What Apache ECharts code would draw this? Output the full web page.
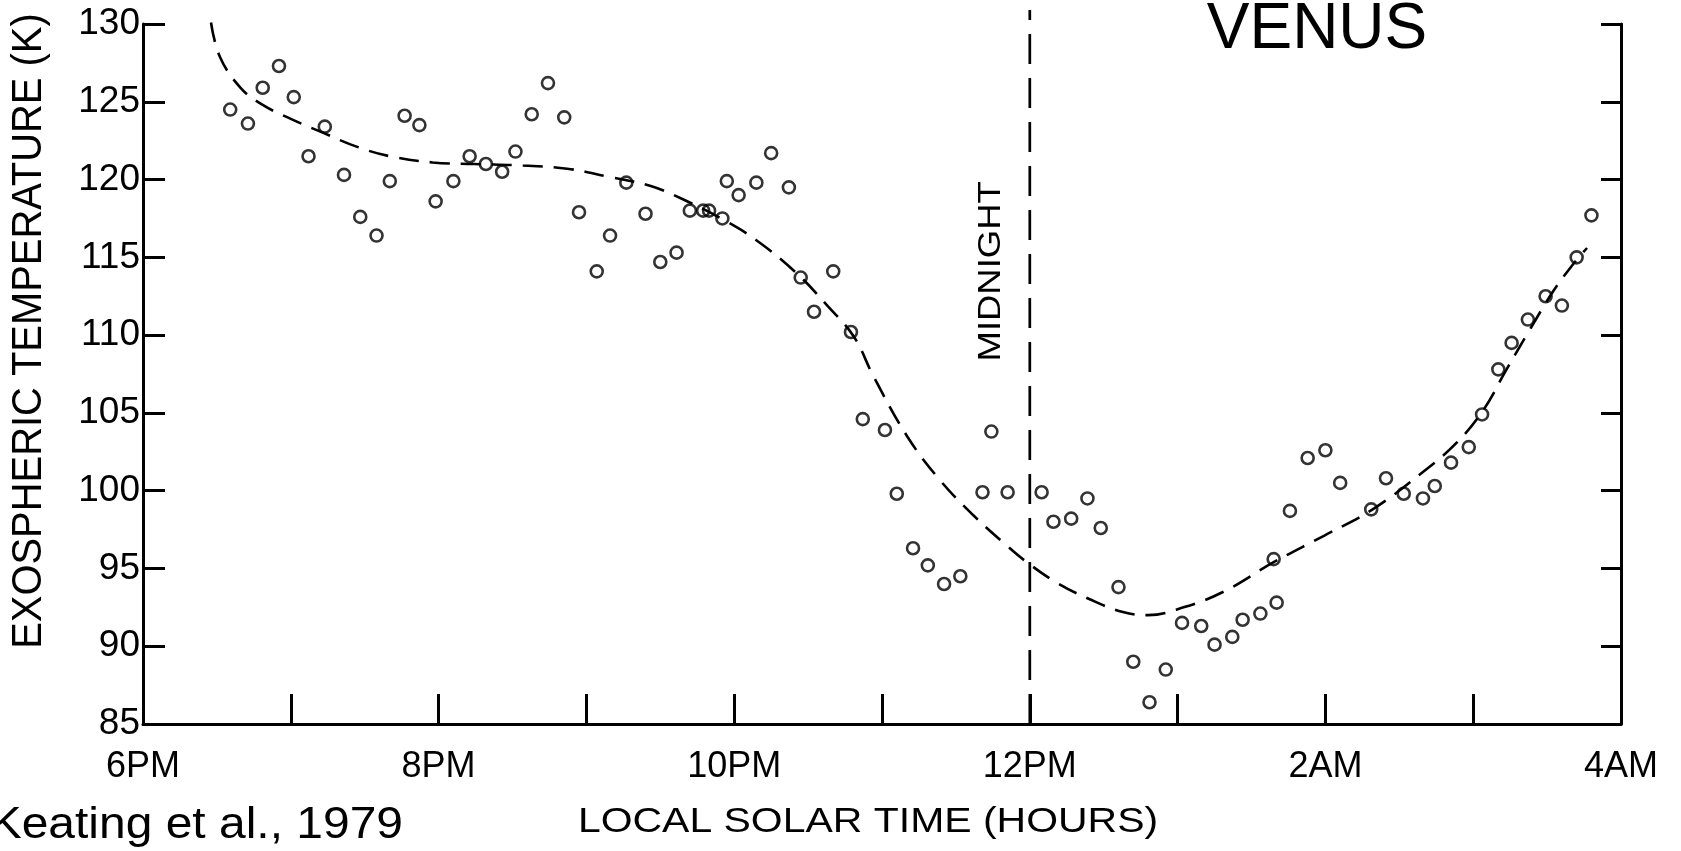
<!DOCTYPE html>
<html>
<head>
<meta charset="utf-8">
<script src="https://cdn.jsdelivr.net/npm/echarts@6/dist/echarts.min.js"></script>
<style>
html,body{margin:0;padding:0;background:#fff;}
#chart{width:1681px;height:851px;}
</style>
</head>
<body>
<div id="chart"></div>
<script>
// ---- data (x = local solar time in hours, 18 = 6PM, 24 = midnight, 28 = 4AM) ----
const obsHours = [
  18.59,18.71,18.81,18.92,19.02,19.12,19.23,19.36,19.47,19.58,19.67,19.77,19.87,19.98,
  20.10,20.21,20.32,20.43,20.52,20.63,20.74,20.85,20.95,21.07,21.16,21.27,
  21.40,21.50,21.61,21.70,21.79,21.83,21.92,21.95,22.03,22.15,22.25,22.37,22.45,22.54,22.67,22.79,
  22.87,23.02,23.10,23.21,23.31,23.42,23.53,23.68,23.74,23.85,
  24.08,24.16,24.28,24.39,24.48,24.60,24.70,24.81,24.92,
  25.03,25.16,25.25,25.37,25.44,25.56,25.67,25.65,25.76,25.88,
  26.00,26.10,26.31,26.41,26.53,26.66,26.74,26.85,26.97,
  27.06,27.17,27.26,27.37,27.49,27.60,27.70,27.80
];
const obsTemps = [
  124.5,123.6,125.9,127.3,125.3,121.5,123.4,120.3,117.6,116.4,119.9,124.1,123.5,118.6,
  119.9,121.5,121.0,120.5,121.8,124.2,126.2,124.0,117.9,114.1,116.4,119.8,
  117.8,114.7,115.3,118.0,118.0,118.0,117.5,119.9,119.0,119.8,121.7,119.5,113.7,111.5,114.1,110.2,
  104.6,103.9,99.8,96.3,95.2,94.0,94.5,99.9,103.8,99.9,
  99.9,98.0,98.2,99.5,97.6,93.8,89.0,86.4,88.5,
  91.5,91.3,90.1,90.6,91.7,92.1,92.8,95.6,98.7,102.1,
  102.6,100.5,98.8,100.8,99.8,99.5,100.3,101.8,102.8,
  104.9,107.8,109.5,111.0,112.5,111.9,115.0,117.7
];
const fitHours = [
  18.46,18.52,18.66,18.81,19.00,19.22,19.45,19.67,19.96,20.24,20.57,20.87,21.14,21.43,21.66,
  21.93,22.15,22.42,22.63,22.81,22.94,23.17,23.39,23.62,23.84,23.98,24.18,24.41,24.63,24.80,
  25.04,25.31,25.65,25.99,26.32,26.66,26.89,27.07,27.22,27.38,27.54,27.68,27.77
];
const fitTemps = [
  130.1,127.9,125.9,124.8,123.9,123.0,122.1,121.5,121.1,121.0,120.9,120.7,120.2,119.6,118.7,
  117.4,116.1,114.0,111.9,109.9,107.4,103.5,100.7,98.4,96.5,95.4,94.1,93.0,92.2,92.0,
  92.5,93.5,95.4,97.1,98.8,101.2,103.1,105.2,107.7,110.3,112.8,114.6,115.6
];
const midnightHour = 24;
const midnightSpan = [85, 130.9];
const midnightLabelAt = [23.74, 114.1];
const xTickLabels = ['6PM','','8PM','','10PM','','12PM','','2AM','','4AM'];
const yTickValues = [85,90,95,100,105,110,115,120,125,130];

const xMin = 18, xMax = 28;
const FONT = "'Liberation Sans', Arial, sans-serif";

const scatterData = obsHours.map((h, i) => [h, obsTemps[i]]);
const fitData = fitHours.map((h, i) => [h, fitTemps[i]]);
const midnightData = midnightSpan.map(t => [midnightHour, t]);

const chart = echarts.init(document.getElementById('chart'), null, {renderer: 'canvas'});
chart.setOption({
  backgroundColor: '#ffffff',
  animation: false,
  grid: {left: 143, right: 60, top: 24, bottom: 127, containLabel: false},
  xAxis: {
    type: 'value', min: xMin, max: xMax, interval: 1,
    axisLine: {show: true, lineStyle: {color: '#000', width: 3}},
    axisTick: {show: true, inside: true, length: 30, lineStyle: {color: '#000', width: 3}},
    splitLine: {show: false},
    axisLabel: {
      margin: 25, color: '#000', fontSize: 36, fontFamily: FONT,
      formatter: v => xTickLabels[Math.round(v - xMin)] || ''
    }
  },
  yAxis: [{
    type: 'value', min: 85, max: 130, interval: 5, position: 'left',
    axisLine: {show: true, lineStyle: {color: '#000', width: 3}},
    axisTick: {show: true, inside: true, length: 22, lineStyle: {color: '#000', width: 3}},
    splitLine: {show: false},
    axisLabel: {margin: 3, color: '#000', fontSize: 37, fontFamily: FONT,
      formatter: v => yTickValues.includes(v) ? String(v) : ''}
  }, {
    type: 'value', min: 85, max: 130, interval: 5, position: 'right',
    axisLine: {show: true, lineStyle: {color: '#000', width: 3}},
    axisTick: {show: true, inside: true, length: 20, lineStyle: {color: '#000', width: 3}},
    splitLine: {show: false},
    axisLabel: {show: false}
  }],
  series: [
    {
      type: 'line', name: 'fit', data: fitData, smooth: 0.4, showSymbol: false, symbol: 'none',
      lineStyle: {color: '#000', width: 2.6, type: [20, 11]}, clip: false, z: 2
    },
    {
      type: 'line', name: 'midnight', data: midnightData, showSymbol: false, symbol: 'none',
      lineStyle: {color: '#000', width: 2.7, type: [30, 14]}, clip: false, z: 2
    },
    {
      type: 'scatter', name: 'obs', data: scatterData, symbol: 'circle', symbolSize: 12,
      itemStyle: {color: 'rgba(0,0,0,0)', borderColor: '#000', borderWidth: 2.6}, z: 3
    }
  ]
});

const mid = chart.convertToPixel({gridIndex: 0}, midnightLabelAt);
chart.setOption({
  graphic: [
    {type: 'text', x: 1317, y: 30, style: {text: 'VENUS', fill: '#000', font: '64px ' + FONT,
      textAlign: 'center', textVerticalAlign: 'middle'}},
    {type: 'text', x: 868, y: 822, scaleX: 1.17, style: {text: 'LOCAL SOLAR TIME (HOURS)', fill: '#000',
      font: '35px ' + FONT, textAlign: 'center', textVerticalAlign: 'middle'}},
    {type: 'text', x: 29, y: 331, rotation: Math.PI / 2, scaleX: 0.95, style: {text: 'EXOSPHERIC TEMPERATURE (K)',
      fill: '#000', font: '42px ' + FONT, textAlign: 'center', textVerticalAlign: 'middle'}},
    {type: 'text', x: 403, y: 826, scaleX: 1.09, style: {text: 'Keating et al., 1979', fill: '#000',
      font: '44px ' + FONT, textAlign: 'right', textVerticalAlign: 'middle'}},
    {type: 'text', x: mid[0], y: mid[1], rotation: Math.PI / 2, scaleX: 1.14, style: {text: 'MIDNIGHT', fill: '#000',
      font: '32px ' + FONT, textAlign: 'center', textVerticalAlign: 'middle'}}
  ]
});
</script>
</body>
</html>
